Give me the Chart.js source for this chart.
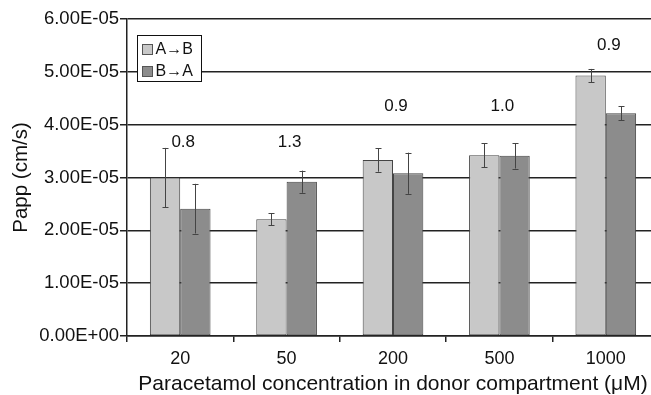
<!DOCTYPE html>
<html><head><meta charset="utf-8">
<script src="https://cdn.jsdelivr.net/npm/chart.js@4.4.0/dist/chart.umd.min.js"></script>
<style>html,body{margin:0;padding:0;overflow:hidden;background:#fff}</style>
</head><body>
<canvas id="c" width="660" height="395"></canvas>
<script>
const categories = ['20', '50', '200', '500', '1000'];
const seriesNames = ['A\u2192B', 'B\u2192A'];
const valuesAB = [3.00e-5, 2.21e-5, 3.33e-5, 3.42e-5, 4.93e-5];
const errorsAB = [0.56e-5, 0.11e-5, 0.22e-5, 0.23e-5, 0.125e-5];
const valuesBA = [2.41e-5, 2.92e-5, 3.08e-5, 3.41e-5, 4.215e-5];
const errorsBA = [0.47e-5, 0.21e-5, 0.39e-5, 0.24e-5, 0.13e-5];
const ratioLabels = ['0.8', '1.3', '0.9', '1.0', '0.9'];
const ratioLabelValues = [3.66e-5, 3.66e-5, 4.34e-5, 4.34e-5, 5.51e-5];
const yTickValues = [0, 1e-5, 2e-5, 3e-5, 4e-5, 5e-5, 6e-5];

const FONT = '"Liberation Sans", Arial, sans-serif';
Chart.defaults.font.family = FONT;
Chart.defaults.color = '#111';

function fmt(v) {
  const s = Number(v).toExponential(2).toUpperCase();
  return s.replace(/E([+-])(\d)$/, 'E$10$2');
}

const errorSets = [errorsAB, errorsBA];

const overlay = {
  id: 'overlay',
  afterDatasetsDraw(chart) {
    const ctx = chart.ctx;
    const y = chart.scales.y;
    const x = chart.scales.x;
    ctx.save();
    // error bars
    chart.data.datasets.forEach((ds, di) => {
      const meta = chart.getDatasetMeta(di);
      meta.data.forEach((bar, i) => {
        const v = ds.data[i], e = errorSets[di][i];
        const yt = y.getPixelForValue(v + e), yb = y.getPixelForValue(v - e);
        ctx.strokeStyle = '#444';
        ctx.lineWidth = 1;
        const cx = Math.round(bar.x) + 0.5;
        ctx.beginPath();
        ctx.moveTo(cx, yt); ctx.lineTo(cx, yb);
        ctx.moveTo(cx - 3, Math.round(yt) + 0.5); ctx.lineTo(cx + 3, Math.round(yt) + 0.5);
        ctx.moveTo(cx - 3, Math.round(yb) + 0.5); ctx.lineTo(cx + 3, Math.round(yb) + 0.5);
        ctx.stroke();
      });
    });
    // ratio labels
    ctx.fillStyle = '#111';
    ctx.font = '17px ' + FONT;
    ctx.textAlign = 'center';
    ctx.textBaseline = 'middle';
    ratioLabels.forEach((t, i) => {
      ctx.fillText(t, x.getPixelForValue(i) + 3, y.getPixelForValue(ratioLabelValues[i]));
    });
    // legend
    const lx = 137.5, ly = 35.5, lw = 64, lh = 46;
    ctx.fillStyle = '#fff';
    ctx.fillRect(lx, ly, lw, lh);
    ctx.strokeStyle = '#111';
    ctx.lineWidth = 1;
    ctx.strokeRect(lx, ly, lw, lh);
    ctx.font = '16px ' + FONT;
    ctx.textAlign = 'left';
    ctx.textBaseline = 'middle';
    chart.data.datasets.forEach((ds, di) => {
      const cy = ly + 14 + di * 22;
      ctx.fillStyle = ds.backgroundColor;
      ctx.fillRect(lx + 5, cy - 5, 10, 10);
      ctx.strokeStyle = '#555';
      ctx.strokeRect(lx + 5, cy - 5, 10, 10);
      ctx.fillStyle = '#111';
      ctx.fillText(ds.label, lx + 18, cy + 0.5);
    });
    ctx.restore();
  }
};

new Chart(document.getElementById('c'), {
  type: 'bar',
  data: {
    labels: categories,
    datasets: [
      { label: seriesNames[0], data: valuesAB, backgroundColor: '#c8c8c8', borderColor: '#444', borderWidth: 1, borderSkipped: false },
      { label: seriesNames[1], data: valuesBA, backgroundColor: '#8c8c8c', borderColor: '#444', borderWidth: 1, borderSkipped: false }
    ]
  },
  options: {
    responsive: false,
    animation: false,
    devicePixelRatio: 1,
    layout: { padding: { top: 19, right: 1, bottom: 0, left: 0 } },
    plugins: { legend: { display: false }, tooltip: { enabled: false } },
    datasets: { bar: { categoryPercentage: 0.57, barPercentage: 1.0 } },
    scales: {
      x: {
        grid: { offset: true, drawOnChartArea: false, drawTicks: true, tickLength: 6, color: '#222', lineWidth: 1.5 },
        border: { display: true, color: '#222', width: 1.5 },
        ticks: { font: { size: 18 }, color: '#111', padding: 6, maxRotation: 0 },
        title: { display: true, text: 'Paracetamol concentration in donor compartment (\u03bcM)', font: { size: 21, lineHeight: 1.0 }, color: '#111', padding: { top: 0, bottom: 0 } },
        afterFit(s) { s.height = 59; }
      },
      y: {
        min: 0, max: 6e-5,
        afterBuildTicks(s) { s.ticks = yTickValues.map(v => ({ value: v })); },
        grid: { color: '#222', lineWidth: 1.5, tickLength: 7, drawTicks: true },
        border: { display: true, color: '#222', width: 1.5 },
        ticks: { font: { size: 18.5 }, color: '#111', padding: 1, callback: v => fmt(v) },
        title: { display: true, text: 'Papp (cm/s)', font: { size: 20.5 }, color: '#111', padding: { top: 9, bottom: 0 } },
        afterFit(s) { s.width = 127; }
      }
    }
  },
  plugins: [overlay]
});
</script>
</body></html>
